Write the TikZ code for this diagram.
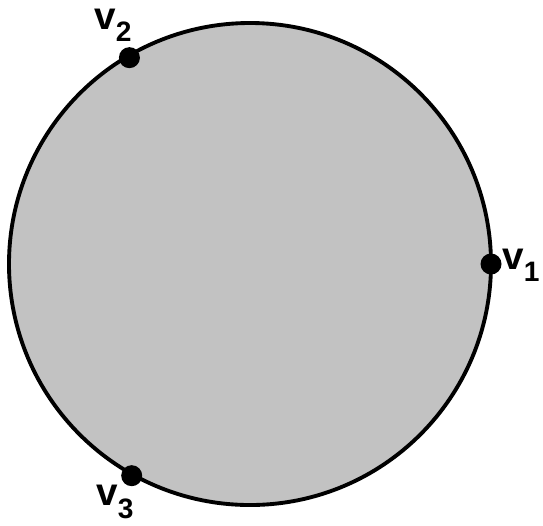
\documentclass[tikz,border=0pt]{standalone}
\usepackage{fontspec}
\setmainfont{Liberation Sans}
\usepackage{tikz}
\usetikzlibrary{positioning}
\tikzstyle{disc}   = [draw=black, line width=2.2pt, fill=black!24]
\tikzstyle{vertex} = [circle, fill=black, inner sep=0pt, minimum size=0.42cm]
\tikzstyle{vlabel} = [inner sep=0pt, font=\bfseries]

\begin{document}
\begin{tikzpicture}
  \useasboundingbox (0,0) rectangle (10.86,-10.5);

  % the shaded disc
  \coordinate (c) at (5.0,-5.28);
  \draw[disc] (c) circle (4.82);

  % vertices on the boundary
  \node (v1) [vertex] at ([shift={(0:4.82)}]c) {};
  \node (v2) [vertex] at ([shift={(120.3:4.78)}]c) {};
  \node (v3) [vertex] at ([shift={(240.8:4.85)}]c) {};

  % labels
  \node (l1) [vlabel, anchor=west] at (10.04,-5.3)
        {{\fontsize{22}{25}\selectfont v}\raisebox{-7pt}{\fontsize{16}{19}\selectfont 1}};
  \node (l2) [vlabel] at (2.26,-0.5)
        {{\fontsize{22}{25}\selectfont v}\raisebox{-7pt}{\fontsize{16}{19}\selectfont 2}};
  \node (l3) [vlabel] at (2.3,-10.04)
        {{\fontsize{22}{25}\selectfont v}\raisebox{-7pt}{\fontsize{16}{19}\selectfont 3}};

\end{tikzpicture}
\end{document}
